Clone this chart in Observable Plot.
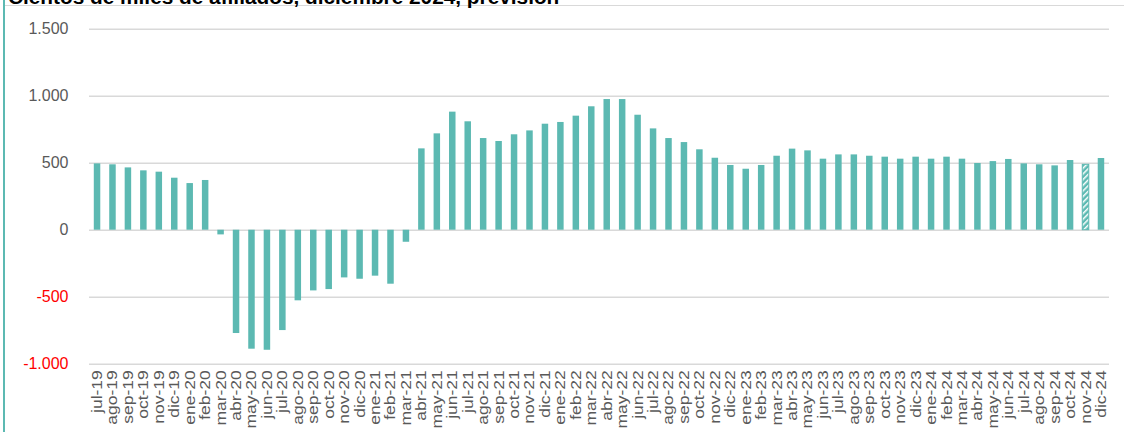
<!DOCTYPE html>
<html><head><meta charset="utf-8">
<script src="https://cdn.jsdelivr.net/npm/d3@7"></script>
<script src="https://cdn.jsdelivr.net/npm/@observablehq/plot@0.6"></script>
<style>
html,body{margin:0;padding:0;background:#fff;}
#wrap{position:relative;width:1124px;height:432px;overflow:hidden;font-family:"Liberation Sans",Arial,sans-serif;}
#title{position:absolute;left:8px;top:-13px;font-size:20.8px;font-weight:bold;line-height:20px;color:#000;white-space:nowrap;z-index:3;}
#chart{position:absolute;left:0;top:0;}
#frameTop{position:absolute;left:4px;top:5px;width:1120px;height:1px;background:#d9d9d9;z-index:2;}
#frameLeft{position:absolute;left:3px;top:0;width:2px;height:432px;background:#5cb9b2;z-index:2;}
</style></head>
<body>
<div id="wrap">
  <div id="chart"></div>
  <div id="title">Cientos de miles de afiliados, diciembre 2024, previsión</div>
  <div id="frameTop"></div>
  <div id="frameLeft"></div>
</div>
<script>
const months = ["jul-19","ago-19","sep-19","oct-19","nov-19","dic-19","ene-20","feb-20","mar-20","abr-20","may-20","jun-20","jul-20","ago-20","sep-20","oct-20","nov-20","dic-20","ene-21","feb-21","mar-21","abr-21","may-21","jun-21","jul-21","ago-21","sep-21","oct-21","nov-21","dic-21","ene-22","feb-22","mar-22","abr-22","may-22","jun-22","jul-22","ago-22","sep-22","oct-22","nov-22","dic-22","ene-23","feb-23","mar-23","abr-23","may-23","jun-23","jul-23","ago-23","sep-23","oct-23","nov-23","dic-23","ene-24","feb-24","mar-24","abr-24","may-24","jun-24","jul-24","ago-24","sep-24","oct-24","nov-24","dic-24"];
const values = [495,488,465,443,433,388,348,371,-35,-771,-888,-896,-749,-527,-453,-443,-356,-366,-343,-403,-90,607,719,881,809,684,662,712,741,791,804,851,921,975,975,858,756,684,654,600,537,483,455,483,552,605,592,530,562,562,552,545,530,545,530,545,530,498,512,528,495,488,480,520,488,535];
const hatched = ["nov-24"];
const yTicksPos = [0, 500, 1000, 1500];
const yTicksNeg = [-1000, -500];

const data = months.map((m, i) => ({month: m, value: values[i], forecast: hatched.includes(m)}));
const loc = d3.formatLocale({decimal: ",", thousands: ".", grouping: [3], currency: ["", "€"], minus: "-"});
const fmt = loc.format(",");
const teal = "#5cb9b2";

const plot = Plot.plot({
  width: 1124, height: 432,
  marginTop: 28.7, marginBottom: 68.3, marginLeft: 89, marginRight: 15,
  style: {background: "transparent", fontFamily: "Liberation Sans, Arial, sans-serif"},
  x: {type: "band", domain: months, paddingInner: 0.58, paddingOuter: 0.31, round: false},
  y: {domain: [-1000, 1500]},
  marks: [
    Plot.ruleY([...yTicksNeg, ...yTicksPos], {stroke: "#d9d9d9", strokeWidth: 1.5}),
    Plot.barY(data.filter(d => !d.forecast), {x: "month", y: "value", fill: teal}),
    Plot.barY(data.filter(d => d.forecast), {x: "month", y: "value", fill: "url(#hatch)", stroke: teal, strokeWidth: 1}),
    Plot.axisY({ticks: yTicksPos, tickSize: 0, tickPadding: 21, tickFormat: fmt, fill: "#595959", fontSize: 16, label: null}),
    Plot.axisY({ticks: yTicksNeg, tickSize: 0, tickPadding: 21, tickFormat: fmt, fill: "#ff0000", fontSize: 16, label: null}),
    Plot.axisX({tickSize: 0, tickPadding: 6, tickRotate: -90, fill: "#595959", fontSize: 14, label: null})
  ]
});

const svg = d3.select(plot);
const defs = svg.insert("defs", ":first-child");
const pat = defs.append("pattern").attr("id", "hatch").attr("patternUnits", "userSpaceOnUse")
  .attr("width", 4).attr("height", 4).attr("patternTransform", "rotate(45)");
pat.append("rect").attr("width", 4).attr("height", 4).attr("fill", teal);
pat.append("rect").attr("width", 1.5).attr("height", 4).attr("fill", "#ffffff");

svg.selectAll('g[aria-label="x-axis tick label"] text').each(function() {
  const t = this.getAttribute("transform") || "";
  this.setAttribute("transform", t + " scale(1.25,1)");
});

document.getElementById("chart").appendChild(plot);
</script>
</body></html>
